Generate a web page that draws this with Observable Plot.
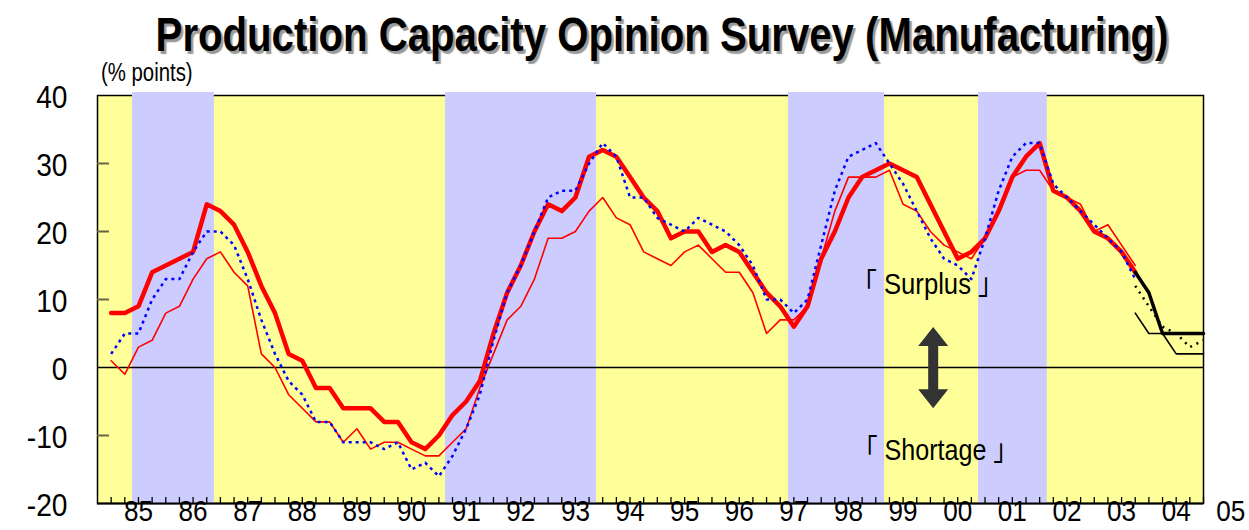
<!DOCTYPE html>
<html><head><meta charset="utf-8">
<script src="https://cdn.jsdelivr.net/npm/d3@7"></script>
<script src="https://cdn.jsdelivr.net/npm/@observablehq/plot@0.6"></script>
<style>
body{margin:0;background:#fff;}
#wrap{position:relative;width:1249px;height:530px;overflow:hidden;background:#fff;}
#chart{position:absolute;left:0;top:0;}
#title{position:absolute;left:661.5px;top:7px;transform-origin:50% 50%;font-family:'Liberation Sans',Arial,sans-serif;font-weight:bold;font-size:48px;line-height:56px;color:#000;text-shadow:3px 3px 1px #9a9a9a;white-space:nowrap;}
#unit{position:absolute;left:101px;top:59px;transform-origin:0 50%;font-family:'Liberation Sans',Arial,sans-serif;font-size:25px;line-height:26px;color:#000;white-space:nowrap;}
</style></head><body>
<div id="wrap"><div id="chart"></div><div id="title">Production Capacity Opinion Survey (Manufacturing)</div><div id="unit">(% points)</div></div>
<script>
// quarterly series, first point = 1985 Q1 position
const startYear = 1985;
const thickRed = [8,8,9,14,15,16,17,24,23,21,17,12,8,2,1,-3,-3,-6,-6,-6,-8,-8,-11,-12,-10,-7,-5,-2,5,11,15,20,24,23,25,31,32,31,28,25,23,19,20,20,17,18,17,14,11,9,6,9,16,20,25,28,29,30,29,28,24,20,16,17,19,23,28,31,33,26,25,23,20,19,17,14];
const thinRed = [1,-1,3,4,8,9,13,16,17,14,12,2,0,-4,-6,-8,-8,-11,-9,-12,-11,-11,-12,-13,-13,-11,-9,-3,2,7,9,13,19,19,20,23,25,22,21,17,16,15,17,18,16,14,14,11,5,7,7,9,16,23,28,28,28,29,24,23,20,18,17,16,19,23,28,29,29,26,25,24,20,21,18,15];
const blueDotted = [2,5,5,10,13,13,17,20,20,18,13,7,2,-2,-4,-8,-8,-11,-11,-11,-12,-11,-15,-14,-16,-13,-9,-4,4,11,15,20,25,26,26,30,33,31,25,25,22,21,20,22,21,20,18,15,10,10,8,10,18,26,31,32,33,30,27,23,19,16,15,13,19,26,31,33,33,27,25,23,21,19,17,13];
// forecast continuations (start at quarter index 75)
const forecastStart = 75;
const thickBlack = [14,11,5,5,5,5];
const thinBlack = [8,5,5,2,2,2];
const dottedBlack = [12,9,6,5,3,4];
// recession periods (decimal years)
const bandStart = [1985.39, 1991.12, 1997.40, 2000.88];
const bandEnd = [1986.89, 1993.886, 1999.16, 2002.14];
const yearLabels = ["85","86","87","88","89","90","91","92","93","94","95","96","97","98","99","00","01","02","03","04","05"];
const yTicks = [40,30,20,10,0,-10,-20];
const innerYTicks = [30,20,10,-10];
const notes = [
  {t: 1999.946, v: 12.19, text: "「 Surplus 」"},
  {t: 2000.092, v: -12.26, text: "「 Shortage 」"}
];
const arrowSpec = {t: 2000.06, top: 5.9, bottom: -6.05};

const mk = (arr, start) => arr.map((v, i) => ({t: startYear + (start + i) / 4, v}));
const bands = bandStart.map((s, i) => ({start: s, end: bandEnd[i]}));
const quarterTicks = d3.range(0, 81).map(i => startYear + i / 4);
const years = yearLabels.map((l, k) => ({t: startYear + k + 0.5, label: l}));

const W = 1249, H = 530, mL = 97, mR = 46, mT = 95, mB = 27;
const plotW = W - mL - mR, plotH = H - mT - mB;

function arrowMark(index, scales) {
  const x = scales.x, y = scales.y;
  const cx = x(arrowSpec.t), y1 = y(arrowSpec.top), y2 = y(arrowSpec.bottom);
  const hh = 19, hw = 15, sw = 5;
  const p = d3.path();
  p.moveTo(cx, y1); p.lineTo(cx + hw, y1 + hh); p.lineTo(cx + sw, y1 + hh); p.lineTo(cx + sw, y2 - hh);
  p.lineTo(cx + hw, y2 - hh); p.lineTo(cx, y2); p.lineTo(cx - hw, y2 - hh); p.lineTo(cx - sw, y2 - hh);
  p.lineTo(cx - sw, y1 + hh); p.lineTo(cx - hw, y1 + hh); p.closePath();
  const el = document.createElementNS("http://www.w3.org/2000/svg", "path");
  el.setAttribute("d", p.toString());
  el.setAttribute("fill", "#333333");
  return el;
}

const chart = Plot.plot({
  width: W, height: H, marginTop: mT, marginBottom: mB, marginLeft: mL, marginRight: mR,
  x: {domain: [1984.75, 2005], axis: null},
  y: {domain: [-20, 40], axis: null},
  style: {fontFamily: "'Liberation Sans', Arial, sans-serif", background: "transparent", overflow: "visible", color: "#000"},
  marks: [
    Plot.frame({fill: "#ffff99", stroke: "#000", strokeWidth: 1.5}),
    Plot.rect(bands, {x1: "start", x2: "end", fill: "#ccccff", insetTop: -3}),
    Plot.ruleY([0], {stroke: "#000", strokeWidth: 1.5}),
    Plot.ruleY([-20], {stroke: "#000", strokeWidth: 2}),
    Plot.ruleY(innerYTicks, {stroke: "#666644", strokeWidth: 2, insetRight: plotW - 12}),
    Plot.ruleX(quarterTicks, {stroke: "#000", strokeWidth: 1.3, insetTop: plotH - 6}),
    Plot.line(mk(thickRed, 0), {x: "t", y: "v", stroke: "#ff0000", strokeWidth: 4.5}),
    Plot.line(mk(thinRed, 0), {x: "t", y: "v", stroke: "#ff0000", strokeWidth: 1.6}),
    Plot.line(mk(blueDotted, 0), {x: "t", y: "v", stroke: "#0000ff", strokeWidth: 2.5, strokeDasharray: "3,4", strokeLinecap: "butt"}),
    Plot.line(mk(thickBlack, forecastStart), {x: "t", y: "v", stroke: "#000", strokeWidth: 3.5}),
    Plot.line(mk(thinBlack, forecastStart), {x: "t", y: "v", stroke: "#000", strokeWidth: 1.6}),
    Plot.line(mk(dottedBlack, forecastStart), {x: "t", y: "v", stroke: "#000", strokeWidth: 2.5, strokeDasharray: "2,5", strokeLinecap: "butt"}),
    Plot.text(yTicks, {y: d => d, text: d => String(d), frameAnchor: "left", textAnchor: "end", dx: -30, dy: 2, fontSize: 32, fill: "#000"}),
    Plot.text(years, {x: "t", text: "label", frameAnchor: "bottom", dy: 17, fontSize: 30, fill: "#000"}),
    Plot.text(notes, {x: "t", y: "v", text: "text", fontSize: 30, fill: "#000", fontFamily: "'Liberation Sans','Noto Sans CJK JP',sans-serif"}),
    arrowMark
  ]
});
document.getElementById("chart").appendChild(chart);

// condensed look: narrow glyphs (like a narrow face)
const narrow = {};
yearLabels.forEach(l => narrow[l] = 0.87);
yTicks.forEach(v => narrow[String(v)] = 0.88);
narrow[notes[0].text] = 0.855; narrow[notes[1].text] = 0.836;
chart.querySelectorAll("text").forEach(t => {
  const f = narrow[t.textContent];
  if (!f) return;
  const L = t.getComputedTextLength();
  t.setAttribute("textLength", (L * f).toFixed(2));
  t.setAttribute("lengthAdjust", "spacingAndGlyphs");
});

const title = document.getElementById("title");
title.style.transform = `translateX(-50%) scaleX(${(1013 / title.offsetWidth).toFixed(4)})`;
const unit = document.getElementById("unit");
unit.style.transform = `scaleX(${(92 / unit.offsetWidth).toFixed(4)})`;
</script>
</body></html>
